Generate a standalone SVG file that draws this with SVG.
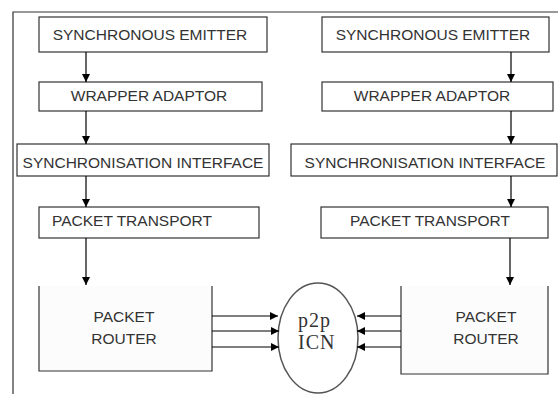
<svg xmlns="http://www.w3.org/2000/svg" width="558" height="394" viewBox="0 0 558 394">
<defs>
<marker id="ah" viewBox="0 0 10 10" refX="10" refY="5" markerWidth="8" markerHeight="8" markerUnits="userSpaceOnUse" orient="auto">
<path d="M0,0 L10,5 L0,10 Z" fill="#000"/>
</marker>
</defs>
<style>
.box{fill:#fff;stroke:#333;stroke-width:1.2}
.rt{fill:#fcfcfc;stroke:none}
.rl{fill:none;stroke:#333;stroke-width:1.2}
.t{font-family:"Liberation Sans",Arial,sans-serif;font-size:15.5px;fill:#333;text-anchor:middle}
.c line{stroke:#000;stroke-width:1.2;marker-end:url(#ah)}
.s{font-family:"Liberation Serif","Times New Roman",serif;font-size:20px;letter-spacing:1px;fill:#333}
</style>
<rect width="558" height="394" fill="#fff"/>
<path d="M13,394 V12 H558" fill="none" stroke="#333" stroke-width="1.2"/>
<g id="l-emitter"><rect class="box" x="39" y="17" width="228" height="35"/><text class="t" x="150" y="40">SYNCHRONOUS EMITTER</text></g>
<g id="l-wrapper"><rect class="box" x="39" y="82" width="223" height="29"/><text class="t" x="149" y="101">WRAPPER ADAPTOR</text></g>
<g id="l-sync"><rect class="box" x="17" y="144" width="252" height="32"/><text class="t" x="143" y="168">SYNCHRONISATION INTERFACE</text></g>
<g id="l-transport"><rect class="box" x="39" y="207" width="220" height="31"/><text class="t" x="132" y="226">PACKET TRANSPORT</text></g>
<g id="l-router"><rect class="rt" x="39" y="286" width="173" height="85"/><path class="rl" d="M39,286 V371 H212 V286"/><text class="t" x="124" y="322">PACKET</text><text class="t" x="124" y="344">ROUTER</text></g>
<g id="r-emitter"><rect class="box" x="322" y="17" width="227" height="35"/><text class="t" x="433" y="40">SYNCHRONOUS EMITTER</text></g>
<g id="r-wrapper"><rect class="box" x="322" y="82" width="231" height="29"/><text class="t" x="432" y="101">WRAPPER ADAPTOR</text></g>
<g id="r-sync"><rect class="box" x="291" y="144" width="266" height="32"/><text class="t" x="425" y="168">SYNCHRONISATION INTERFACE</text></g>
<g id="r-transport"><rect class="box" x="321" y="207" width="227" height="31"/><text class="t" x="430" y="226">PACKET TRANSPORT</text></g>
<g id="r-router"><rect class="rt" x="401" y="286" width="147" height="88"/><path class="rl" d="M401,286 V374 H548 V286"/><text class="t" x="486" y="322">PACKET</text><text class="t" x="486" y="344">ROUTER</text></g>
<g id="icn"><ellipse cx="318" cy="338" rx="40" ry="55" fill="#fff" stroke="#555" stroke-width="1.5"/><text class="s" x="298" y="327">p2p</text><text class="s" x="298" y="349">ICN</text></g>
<g class="c" id="connectors">
<line x1="86" y1="52" x2="86" y2="82"/>
<line x1="86" y1="111" x2="86" y2="144"/>
<line x1="86" y1="176" x2="86" y2="207"/>
<line x1="86" y1="238" x2="86" y2="285"/>
<line x1="511" y1="52" x2="511" y2="82"/>
<line x1="511" y1="111" x2="511" y2="144"/>
<line x1="511" y1="176" x2="511" y2="207"/>
<line x1="510" y1="238" x2="510" y2="285"/>
<line x1="212" y1="316" x2="278" y2="316"/>
<line x1="212" y1="331" x2="279" y2="331"/>
<line x1="212" y1="347" x2="279" y2="347"/>
<line x1="401" y1="316" x2="357" y2="316"/>
<line x1="401" y1="331" x2="357" y2="331"/>
<line x1="401" y1="347" x2="357" y2="347"/>
</g>
</svg>
